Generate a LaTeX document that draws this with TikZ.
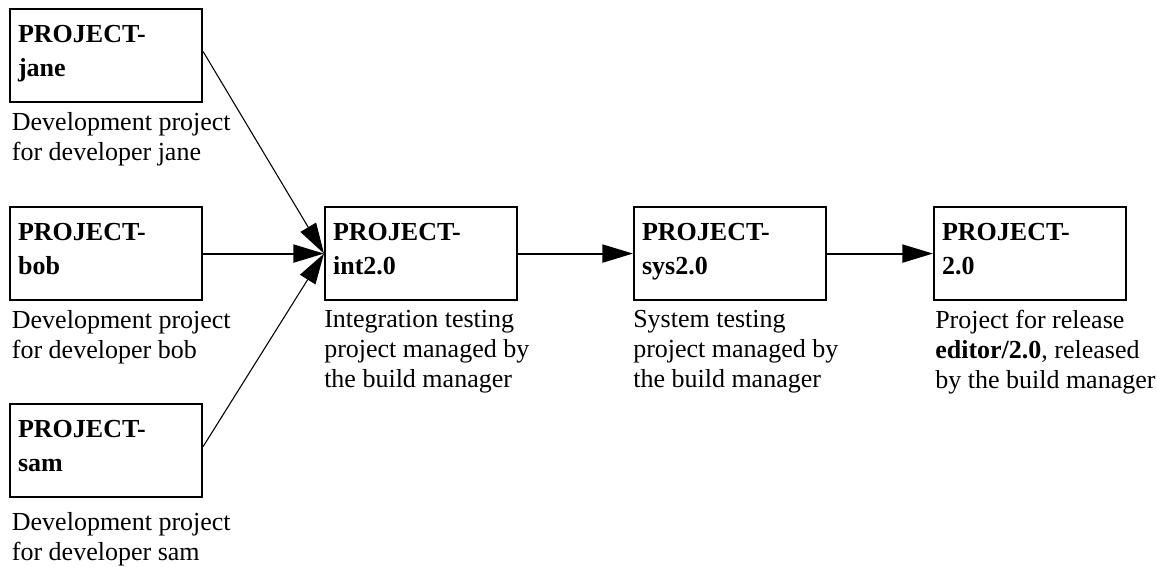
\documentclass[tikz,border=0pt]{standalone}
\usepackage{fontspec}
\setmainfont{Liberation Serif}
\usetikzlibrary{arrows.meta}

\begin{document}
\begin{tikzpicture}[x=0.75pt,y=-0.75pt]

\tikzset{project/.style = {shape=rectangle, draw, line width=1.6pt, anchor=north west,
  inner xsep=6pt, inner ysep=0pt, text width=132pt, align=left,
  text height=25pt, text depth=44.75pt, font=\fontsize{19.5}{25.5}\selectfont\bfseries}}
\tikzset{note/.style = {anchor=north west, inner sep=0pt, align=left,
  font=\fontsize{19.5}{22.5}\selectfont}}
\tikzset{link/.style = {-{Triangle[length=23pt,width=13.5pt]}, line width=1.5pt}}
\tikzset{merge/.style = {link, line width=0.8pt}}

\useasboundingbox (0,0) rectangle (1157,567);
%projects
\node[project] (jane) at (9,8) {PROJECT-\\jane};
\node[project] (bob) at (9,206) {PROJECT-\\bob};
\node[project] (sam) at (9,403) {PROJECT-\\sam};
\node[project] (int) at (324,206) {PROJECT-\\int2.0};
\node[project] (sys) at (633,206) {PROJECT-\\sys2.0};
\node[project] (rel) at (933,206) {PROJECT-\\2.0};
%descriptions
\node[note, xshift=2pt, yshift=-6.5pt] (jane note) at (jane.south west) {Development project\\for developer jane};
\node[note, xshift=2pt, yshift=-6.5pt] (bob note) at (bob.south west) {Development project\\for developer bob};
\node[note, xshift=2pt, yshift=-10.8pt] (sam note) at (sam.south west) {Development project\\for developer sam};
\node[note, xshift=0pt, yshift=-6.5pt] (int note) at (int.south west) {Integration testing\\project managed by\\the build manager};
\node[note, xshift=0pt, yshift=-6.5pt] (sys note) at (sys.south west) {System testing\\project managed by\\the build manager};
\node[note, xshift=1.5pt, yshift=-6.5pt] (rel note) at (rel.south west) {Project for release\\\textbf{editor/2.0}, released\\by the build manager};
%edges
\draw[merge] ([yshift=3pt]jane.east) -- (int.west);
\draw[link] (bob.east) -- (int.west);
\draw[merge] ([yshift=3pt]sam.east) -- (int.west);
\draw[link] (int.east) -- (sys.west);
\draw[link] (sys.east) -- (rel.west);

\end{tikzpicture}
\end{document}
